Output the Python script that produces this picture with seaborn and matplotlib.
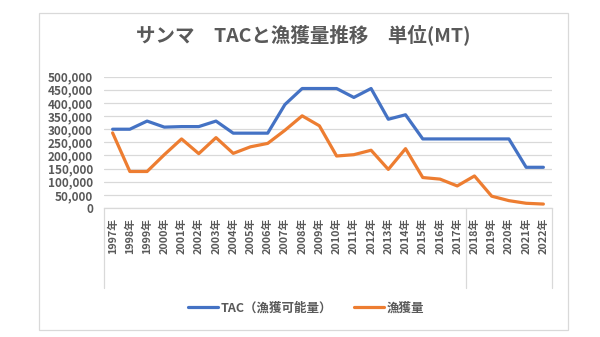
import matplotlib
matplotlib.use("Agg")
import matplotlib.pyplot as plt
import matplotlib.transforms as mtransforms
from matplotlib.lines import Line2D
from matplotlib.patches import Rectangle
import seaborn as sns
import pandas as pd

years = [f"{y}年" for y in range(1997, 2023)]
tac = [300000, 300000, 331000, 308000, 310000, 310000, 331000, 285000, 285000, 285000,
       394000, 455000, 455000, 455000, 421000, 455000, 338000, 355000, 263000, 263000,
       263000, 263000, 263000, 263000, 155000, 155000]
catch = [286000, 139000, 139000, 203000, 263000, 207000, 268000, 208000, 233000, 246000,
         296000, 351000, 313000, 198000, 203000, 220000, 147000, 226000, 116000, 110000,
         84000, 122000, 45000, 28000, 18000, 15000]
series_names = ["TAC（漁獲可能量）", "漁獲量"]
colors = ["#4472C4", "#ED7D31"]
title = "サンマ　TACと漁獲量推移　単位(MT)"

sns.set_theme(style="white")
plt.rcParams["font.family"] = ["Noto Sans CJK JP", "DejaVu Sans"]

fig = plt.figure(figsize=(6.0, 3.37), dpi=100)
ax = fig.add_axes([104/600, 1-208/337, (552-104)/600, (208-76.7)/337])

pos = list(range(len(years)))
df = pd.DataFrame({"pos": pos * 2,
                   "value": tac + catch,
                   "series": [series_names[0]] * len(pos) + [series_names[1]] * len(pos)})
sns.lineplot(data=df, x="pos", y="value", hue="series", palette=colors,
             linewidth=2.3, ax=ax, legend=False, zorder=3)

ax.set_xlim(-0.5, len(years) - 0.5)
ax.set_ylim(0, 500000)
ax.set_yticks(range(0, 500001, 50000))
ax.set_yticklabels([f"{v:,}" for v in range(0, 500001, 50000)])
ax.set_xticks(pos)
ax.set_xticklabels(years, rotation=90)
ax.set_xlabel("")
ax.set_ylabel("")
ax.grid(axis="y", color="#D9D9D9", linewidth=0.9)
ax.grid(axis="x", visible=False)
for s in ["top", "left", "right"]:
    ax.spines[s].set_visible(False)
ax.spines["bottom"].set_color("#D9D9D9")
ax.spines["bottom"].set_linewidth(0.9)
ax.tick_params(axis="y", length=0, pad=8, labelsize=8.5, labelcolor="#595959")
ax.tick_params(axis="x", length=0, pad=7, labelsize=7.8, labelcolor="#595959")
for lab in ax.get_yticklabels() + ax.get_xticklabels():
    lab.set_fontweight("bold")

# category axis separators
trans = mtransforms.blended_transform_factory(ax.transData, ax.transAxes)
for xv in [-0.5, 20.5, len(years) - 0.5]:
    ax.add_line(Line2D([xv, xv], [0, -80/131.3], transform=trans, color="#D9D9D9",
                       linewidth=0.9, clip_on=False))

fig.text(303/600, 1-35/337, title, ha="center", va="center", fontsize=14,
         fontweight="bold", color="#595959")

handles = [Line2D([], [], color=c, linewidth=2.3) for c in colors]
leg = fig.legend(handles, series_names, loc="center", bbox_to_anchor=(306/600, 1-308/337),
                 ncol=2, frameon=False, handlelength=2.4, columnspacing=1.75,
                 handletextpad=0.2, prop={"size": 9, "weight": "bold"})
for t in leg.get_texts():
    t.set_color("#595959")

fig.patches.append(Rectangle((39/600, 1-330/337), (568-39)/600, (330-13)/337,
                             transform=fig.transFigure, fill=False,
                             edgecolor="#D9D9D9", linewidth=0.9))

fig.savefig("out.png", dpi=100, facecolor="white")
